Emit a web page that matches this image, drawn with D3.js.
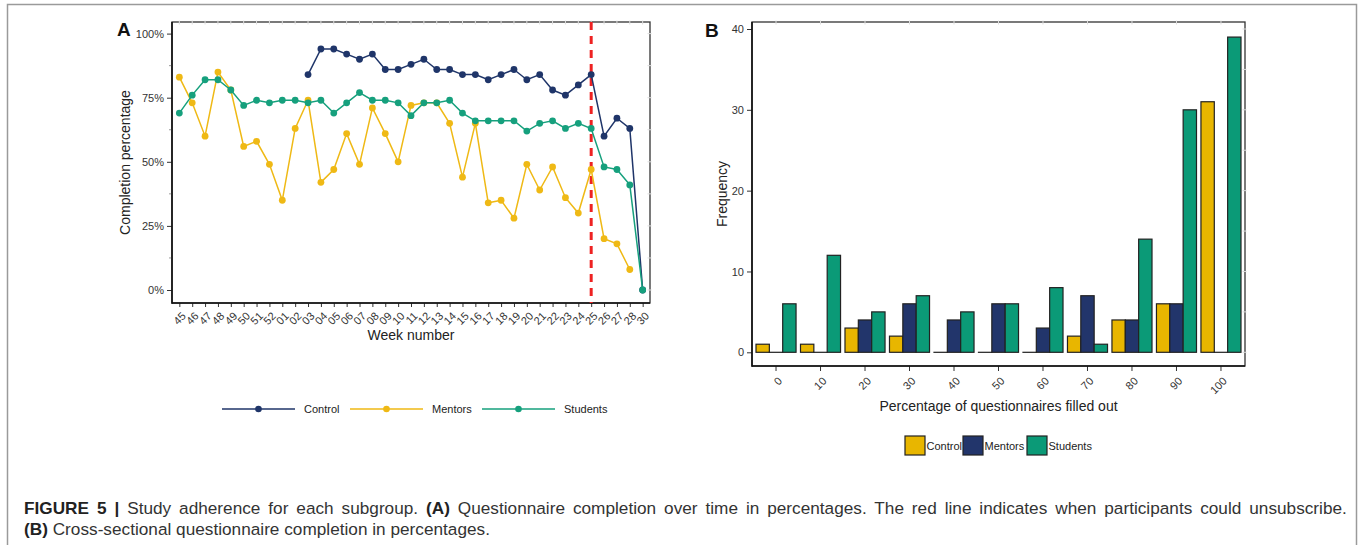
<!DOCTYPE html>
<html><head><meta charset="utf-8">
<script src="https://cdn.jsdelivr.net/npm/d3@7"></script>
<style>body{margin:0;background:#fff}svg{display:block;font-family:"Liberation Sans",Arial,sans-serif}</style>
</head><body><svg id="c" width="1360" height="545"></svg>
<script>
// ---------- Panel A data ----------
const weeks = ["45","46","47","48","49","50","51","52","01","02","03","04","05","06","07","08","09","10","11","12","13","14","15","16","17","18","19","20","21","22","23","24","25","26","27","28","30"];
const control = [null,null,null,null,null,null,null,null,null,null,84,94,94,92,90,92,86,86,88,90,86,86,84,84,82,84,86,82,84,78,76,80,84,60,67,63,0];
const mentors = [83,73,60,85,78,56,58,49,35,63,74,42,47,61,49,71,61,50,72,73,73,65,44,65,34,35,28,49,39,48,36,30,47,20,18,8,null];
const students = [69,76,82,82,78,72,74,73,74,74,73,74,69,73,77,74,74,73,68,73,73,74,69,66,66,66,66,62,65,66,63,65,63,48,47,41,0];
const yTicksA = [0,25,50,75,100];
const cutoffWeek = "25";
// ---------- Panel B data ----------
const bins = ["0","10","20","30","40","50","60","70","80","90","100"];
const barControl = [1,1,3,2,0,0,0,2,4,6,31];
const barMentors = [0,0,4,6,4,6,3,7,4,6,0];
const barStudents = [6,12,5,7,5,6,8,1,14,30,39];
const yTicksB = [0,10,20,30,40];
const seriesNames = ["Control","Mentors","Students"];

const colA = {Control:"#1f3569", Mentors:"#efb915", Students:"#16a07d"};
const colB = {Control:"#e8b600", Mentors:"#22356b", Students:"#0b9a77"};

const svg = d3.select("#c");
svg.append("rect").attr("x",7.5).attr("y",4.5).attr("width",1349).attr("height",600)
  .attr("fill","none").attr("stroke","#9a9a9a").attr("stroke-width",1.5);

// ================= Panel A =================
const A = {l:172, r:650, t:22, b:303};
const xA = d3.scalePoint().domain(weeks).range([A.l, A.r]).padding(0.57);
const yA = d3.scaleLinear().domain([0,100]).range([290, 33.6]);
const gA = svg.append("g");

gA.append("rect").attr("x",A.l).attr("y",A.t).attr("width",A.r-A.l).attr("height",A.b-A.t)
  .attr("fill","none").attr("stroke","#333").attr("stroke-width",1.3);
gA.append("g").selectAll("line").data(weeks).join("line")
  .attr("x1",d=>xA(d)).attr("x2",d=>xA(d)).attr("y1",A.t-1.5).attr("y2",A.t+2.5)
  .attr("stroke","#ddd").attr("stroke-width",1);
gA.append("g").selectAll("line").data(d3.range(0,101,12.5)).join("line")
  .attr("x1",A.r-2.5).attr("x2",A.r+1.5).attr("y1",d=>yA(d)).attr("y2",d=>yA(d))
  .attr("stroke","#ddd").attr("stroke-width",1);

const axL = gA.append("g").attr("transform",`translate(${A.l},0)`)
  .call(d3.axisLeft(yA).tickValues(yTicksA).tickSize(5).tickFormat(d=>d+"%"));
axL.select(".domain").remove();
axL.selectAll("text").attr("font-size",11).attr("fill","#333").attr("font-family","Liberation Sans, Arial");
axL.selectAll("line").attr("stroke","#333");
gA.append("g").selectAll("line").data([12.5,37.5,62.5,87.5]).join("line")
  .attr("x1",A.l-3).attr("x2",A.l).attr("y1",d=>yA(d)).attr("y2",d=>yA(d)).attr("stroke","#999");
gA.append("line").attr("x1",A.l).attr("x2",A.l).attr("y1",A.t).attr("y2",A.b+0.7)
  .attr("stroke","#111").attr("stroke-width",1.6);

const axB = gA.append("g").attr("transform",`translate(0,${A.b})`)
  .call(d3.axisBottom(xA).tickSize(4));
axB.select(".domain").remove();
axB.selectAll("line").attr("stroke","#333");
axB.selectAll("text").attr("font-size",11).attr("fill","#333").attr("font-family","Liberation Sans, Arial")
  .attr("text-anchor","end").attr("x",0).attr("y",0).attr("dy","0.35em")
  .attr("transform","translate(4,11) rotate(-45)");
gA.append("line").attr("x1",A.l).attr("x2",A.r).attr("y1",A.b).attr("y2",A.b)
  .attr("stroke","#111").attr("stroke-width",1.6);

gA.append("line").attr("x1",xA(cutoffWeek)).attr("x2",xA(cutoffWeek)).attr("y1",A.t).attr("y2",A.b)
  .attr("stroke","#ee2222").attr("stroke-width",3).attr("stroke-dasharray","8,6");

const seriesA = [{name:"Control",vals:control},{name:"Mentors",vals:mentors},{name:"Students",vals:students}];
const line = d3.line().defined(d=>d.v!=null).x(d=>xA(d.w)).y(d=>yA(d.v));
seriesA.forEach(s=>{
  const pts = weeks.map((w,i)=>({w, v:s.vals[i]}));
  gA.append("path").datum(pts).attr("d",line).attr("fill","none")
    .attr("stroke",colA[s.name]).attr("stroke-width",1.5);
  gA.append("g").selectAll("circle").data(pts.filter(d=>d.v!=null)).join("circle")
    .attr("cx",d=>xA(d.w)).attr("cy",d=>yA(d.v)).attr("r",3.4).attr("fill",colA[s.name]);
});

gA.append("text").attr("x",117).attr("y",36).attr("font-size",19).attr("font-weight","bold").attr("fill","#111").text("A");
gA.append("text").attr("transform",`translate(130,${(A.t+A.b)/2}) rotate(-90)`).attr("text-anchor","middle")
  .attr("font-size",14).attr("fill","#222").text("Completion percentage");
gA.append("text").attr("x",(A.l+A.r)/2).attr("y",340).attr("text-anchor","middle")
  .attr("font-size",14).attr("fill","#222").text("Week number");

const legA = [{name:"Control",x:222},{name:"Mentors",x:350},{name:"Students",x:482}];
legA.forEach(d=>{
  const g = gA.append("g");
  g.append("line").attr("x1",d.x).attr("x2",d.x+73).attr("y1",409).attr("y2",409).attr("stroke",colA[d.name]).attr("stroke-width",1.5);
  g.append("circle").attr("cx",d.x+36.5).attr("cy",409).attr("r",3.3).attr("fill",colA[d.name]);
  g.append("text").attr("x",d.x+82).attr("y",413).attr("font-size",11).attr("fill","#222").text(d.name);
});

// ================= Panel B =================
const B = {l:752, r:1245, t:22, b:366};
const xB = d3.scaleBand().domain(bins).range([B.l, B.r]).paddingInner(0.1).paddingOuter(0.09);
const xSub = d3.scaleBand().domain(seriesNames).range([0, xB.bandwidth()]);
const yB = d3.scaleLinear().domain([0,40]).range([352.3, 29]);
const gB = svg.append("g");

gB.append("rect").attr("x",B.l).attr("y",B.t).attr("width",B.r-B.l).attr("height",B.b-B.t)
  .attr("fill","none").attr("stroke","#333").attr("stroke-width",1.3);
gB.append("g").selectAll("line").data(bins).join("line")
  .attr("x1",d=>xB(d)+xB.bandwidth()/2).attr("x2",d=>xB(d)+xB.bandwidth()/2).attr("y1",B.t-1.5).attr("y2",B.t+2.5)
  .attr("stroke","#ddd");
gB.append("g").selectAll("line").data(d3.range(0,41,5)).join("line")
  .attr("x1",B.r-2.5).attr("x2",B.r+1.5).attr("y1",d=>yB(d)).attr("y2",d=>yB(d)).attr("stroke","#ddd");

const bL = gB.append("g").attr("transform",`translate(${B.l},0)`)
  .call(d3.axisLeft(yB).tickValues(yTicksB).tickSize(5));
bL.select(".domain").remove();
bL.selectAll("text").attr("font-size",11).attr("fill","#333").attr("font-family","Liberation Sans, Arial");
bL.selectAll("line").attr("stroke","#333");
gB.append("line").attr("x1",B.l).attr("x2",B.l).attr("y1",B.t).attr("y2",B.b+0.7).attr("stroke","#111").attr("stroke-width",1.6);

const bB = gB.append("g").attr("transform",`translate(0,${B.b})`)
  .call(d3.axisBottom(xB).tickSize(5));
bB.select(".domain").remove();
bB.selectAll("line").attr("stroke","#333");
bB.selectAll("text").attr("font-size",11).attr("fill","#333").attr("font-family","Liberation Sans, Arial")
  .attr("text-anchor","end").attr("x",0).attr("y",0).attr("dy","0.35em")
  .attr("transform","translate(4,13) rotate(-45)");
gB.append("line").attr("x1",B.l).attr("x2",B.r).attr("y1",B.b).attr("y2",B.b).attr("stroke","#111").attr("stroke-width",1.6);

const seriesB = {Control:barControl, Mentors:barMentors, Students:barStudents};
const barData = [];
bins.forEach((b,i)=>seriesNames.forEach(s=>barData.push({bin:b, s, v:seriesB[s][i]})));
gB.append("g").selectAll("rect").data(barData).join("rect")
  .attr("x",d=>xB(d.bin)+xSub(d.s)).attr("width",xSub.bandwidth())
  .attr("y",d=>yB(d.v)).attr("height",d=>Math.max(0.01, yB(0)-yB(d.v)))
  .attr("fill",d=>colB[d.s]).attr("stroke","#222").attr("stroke-width",1.2);

gB.append("text").attr("x",705).attr("y",37).attr("font-size",19).attr("font-weight","bold").attr("fill","#111").text("B");
gB.append("text").attr("transform",`translate(727,${(B.t+B.b)/2}) rotate(-90)`).attr("text-anchor","middle")
  .attr("font-size",14).attr("fill","#222").text("Frequency");
gB.append("text").attr("x",(B.l+B.r)/2).attr("y",411).attr("text-anchor","middle")
  .attr("font-size",14).attr("fill","#222").text("Percentage of questionnaires filled out");

const legB = [{name:"Control",x:905},{name:"Mentors",x:963},{name:"Students",x:1027}];
legB.forEach(d=>{
  gB.append("rect").attr("x",d.x).attr("y",436).attr("width",20).attr("height",19)
    .attr("fill",colB[d.name]).attr("stroke","#222").attr("stroke-width",1.2);
  gB.append("text").attr("x",d.x+21.5).attr("y",449.5).attr("font-size",11).attr("fill","#222").text(d.name);
});

// ================= Caption (line 1 justified) =================
const cap1 = svg.append("text").attr("font-size",16.5).attr("fill","#333");
cap1.append("tspan").attr("font-weight","bold").attr("fill","#222").text("FIGURE 5 |");
cap1.append("tspan").text(" Study adherence for each subgroup. ");
cap1.append("tspan").attr("font-weight","bold").attr("fill","#222").text("(A)");
cap1.append("tspan").text(" Questionnaire completion over time in percentages. The red line indicates when participants could unsubscribe.");
const cap2 = svg.append("text").attr("font-size",16.5).attr("fill","#333");
cap2.append("tspan").attr("font-weight","bold").attr("fill","#222").text("(B)");
cap2.append("tspan").text(" Cross-sectional questionnaire completion in percentages.");
const nat1 = cap1.node().getComputedTextLength();
const nat2 = cap2.node().getComputedTextLength();
const sx = 466 / nat2;
const nSp = (cap1.text().match(/ /g) || []).length;
cap1.attr("transform",`translate(24,513.5) scale(${sx},1)`)
  .attr("word-spacing", Math.max(0,(1323/sx - nat1)/nSp));
cap2.attr("transform",`translate(24,534.5) scale(${sx},1)`);
</script></body></html>
